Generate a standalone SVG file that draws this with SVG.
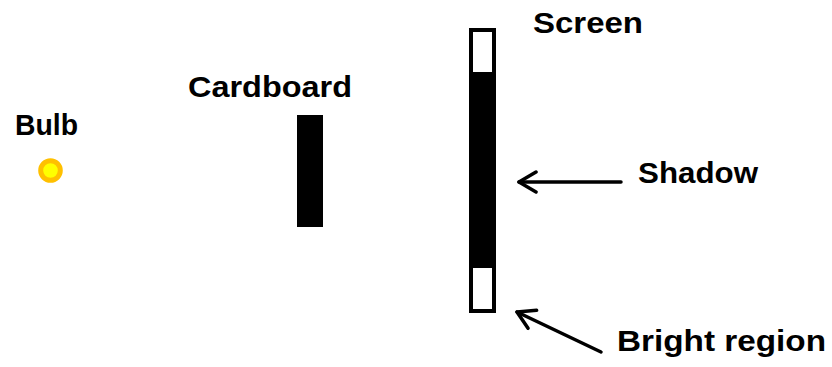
<svg xmlns="http://www.w3.org/2000/svg" width="832" height="367" viewBox="0 0 832 367">
<defs>
<style>
.lbl{font-family:"Liberation Sans",Arial,sans-serif;font-weight:bold;font-size:30px;fill:#000}
.arr{stroke:#000;stroke-width:3.5;fill:none;stroke-linecap:round}
</style>
<marker id="head" markerUnits="userSpaceOnUse" viewBox="-20 -12 24 24" refX="0" refY="0" markerWidth="24" markerHeight="24" orient="auto">
<path d="M -17 -10 L 0 0 L -17 10" fill="none" stroke="#000" stroke-width="3.5" stroke-linecap="round" stroke-linejoin="round"/>
</marker>
</defs>
<rect width="832" height="367" fill="#fff"/>
<g id="bulb">
<circle cx="50.5" cy="170.5" r="9.8" fill="#ffff00" stroke="#ffc000" stroke-width="5"/>
<text class="lbl" x="15" y="135" textLength="63" lengthAdjust="spacingAndGlyphs">Bulb</text>
</g>
<g id="cardboard">
<rect x="297" y="115" width="26" height="112" fill="#000"/>
<text class="lbl" x="188" y="97" textLength="164" lengthAdjust="spacingAndGlyphs">Cardboard</text>
</g>
<g id="screen">
<rect x="471" y="30" width="23" height="281" fill="#fff" stroke="#000" stroke-width="4"/>
<rect x="469" y="72" width="27" height="196" fill="#000"/>
<text class="lbl" x="533" y="33" textLength="110" lengthAdjust="spacingAndGlyphs">Screen</text>
</g>
<g id="shadow">
<text class="lbl" x="638" y="183" textLength="120" lengthAdjust="spacingAndGlyphs">Shadow</text>
</g>
<g id="bright">
<text class="lbl" x="617" y="351" textLength="209" lengthAdjust="spacingAndGlyphs">Bright region</text>
</g>
<g id="connectors">
<line class="arr" x1="621" y1="182" x2="519" y2="182" marker-end="url(#head)"/>
<line class="arr" x1="601" y1="352" x2="517" y2="312" marker-end="url(#head)"/>
</g>
</svg>
